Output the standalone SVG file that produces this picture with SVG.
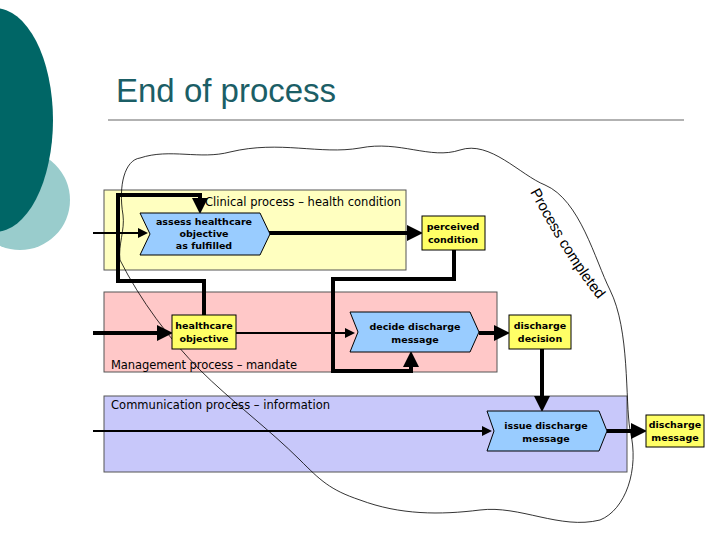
<svg xmlns="http://www.w3.org/2000/svg" width="720" height="540" viewBox="0 0 720 540">
<defs>
<style>
.t{font-family:"DejaVu Sans",sans-serif;font-size:11.5px;fill:#000}
.b{font-family:"DejaVu Sans",sans-serif;font-size:9.5px;font-weight:bold;fill:#000;text-anchor:middle}
.ev{fill:#ffff66;stroke:#000;stroke-width:1}
.fn{fill:#99ccff;stroke:#000;stroke-width:1}
.k{fill:none;stroke:#000;stroke-width:4}
.n{fill:none;stroke:#000;stroke-width:2}
</style>
<marker id="a" markerWidth="4" markerHeight="4" refX="3" refY="2" orient="auto" markerUnits="strokeWidth"><path d="M0,0L4,2L0,4z" fill="#000"/></marker>
<marker id="s" markerWidth="5" markerHeight="5" refX="4" refY="2.5" orient="auto" markerUnits="strokeWidth"><path d="M0,0L5,2.5L0,5z" fill="#000"/></marker>
</defs>
<rect width="720" height="540" fill="#fff"/>
<g id="decor">
<circle cx="20" cy="200" r="50" fill="#99cccc"/>
<ellipse cx="-5" cy="120" rx="58" ry="112" fill="#006666"/>
<text x="116" y="102" font-family="Liberation Sans,Arial,sans-serif" font-size="33" fill="#1b5e66">End of process</text>
<line x1="108" y1="120" x2="684" y2="120" stroke="#999" stroke-width="1.5"/>
</g>
<g id="lanes">
<rect x="104" y="190" width="302" height="80" fill="#ffffc0" stroke="#555"/>
<rect x="104" y="292" width="393" height="80" fill="#ffc8c8" stroke="#555"/>
<rect x="104" y="396" width="523" height="76" fill="#c8c8fa" stroke="#555"/>
<text class="t" x="205" y="206" textLength="196">Clinical process – health condition</text>
<text class="t" x="111" y="369" textLength="186">Management process – mandate</text>
<text class="t" x="111" y="409" textLength="219">Communication process – information</text>
</g>
<g id="cloud">
<path d="M123,215 C118,185 125,160 140,158 C170,148 200,160 230,152 C280,140 320,155 360,148 C400,140 430,160 460,150 C490,140 520,175 545,185 C580,200 595,260 610,290 C630,330 625,400 630,430 C640,470 625,510 600,520 C560,530 520,505 480,510 C440,515 400,515 360,500 C330,490 320,480 300,460 C270,430 230,400 200,370 C170,340 140,300 120,260 C118,245 125,230 123,215 Z" fill="none" stroke="#000" stroke-width="0.8"/>
<path id="pc" d="M530,192 C550,228 570,265 600,302 L620,325" fill="none"/>
<text font-family="Liberation Sans,Arial,sans-serif" font-size="15" fill="#000"><textPath href="#pc">Process completed</textPath></text>
</g>
<g id="connectors">
<line class="n" x1="93" y1="233" x2="146" y2="233" marker-end="url(#s)"/>
<line class="k" x1="269" y1="233" x2="419" y2="233" marker-end="url(#a)"/>
<polyline class="k" points="204,315 204,281 118,281 118,195 200,195 200,210" marker-end="url(#a)"/>
<polyline class="k" points="454,250 454,279 333,279 333,371 411,371 411,355" marker-end="url(#a)"/>
<line class="k" x1="93" y1="333" x2="169" y2="333" marker-end="url(#a)"/>
<line class="n" x1="236" y1="333" x2="353" y2="333" marker-end="url(#s)"/>
<line class="k" x1="479" y1="333" x2="506" y2="333" marker-end="url(#a)"/>
<line class="k" x1="542" y1="349" x2="542" y2="408" marker-end="url(#a)"/>
<line class="n" x1="93" y1="431" x2="490" y2="431" marker-end="url(#s)"/>
<line class="k" x1="607" y1="431" x2="643" y2="431" marker-end="url(#a)"/>
</g>
<g id="assess"><polygon class="fn" points="140,213 260,213 270,234 260,255 140,255 150,234"/>
<text class="b" x="204" y="225">assess healthcare</text><text class="b" x="204" y="237">objective</text><text class="b" x="204" y="249">as fulfilled</text></g>
<g id="perceived"><rect class="ev" x="422" y="216" width="63" height="34"/>
<text class="b" x="453" y="230">perceived</text><text class="b" x="453" y="243">condition</text></g>
<g id="hobj"><rect class="ev" x="172" y="315" width="64" height="34"/>
<text class="b" x="204" y="329">healthcare</text><text class="b" x="204" y="342">objective</text></g>
<g id="decide"><polygon class="fn" points="350,312 470,312 479,332 470,352 350,352 358,332"/>
<text class="b" x="415" y="330">decide discharge</text><text class="b" x="415" y="343">message</text></g>
<g id="ddec"><rect class="ev" x="509" y="315" width="62" height="34"/>
<text class="b" x="540" y="329">discharge</text><text class="b" x="540" y="342">decision</text></g>
<g id="issue"><polygon class="fn" points="487,411 599,411 607,431 599,451 487,451 494,431"/>
<text class="b" x="546" y="429">issue discharge</text><text class="b" x="546" y="442">message</text></g>
<g id="dmsg"><rect class="ev" x="646" y="415" width="58" height="32"/>
<text class="b" x="675" y="428">discharge</text><text class="b" x="675" y="441">message</text></g>
</svg>
